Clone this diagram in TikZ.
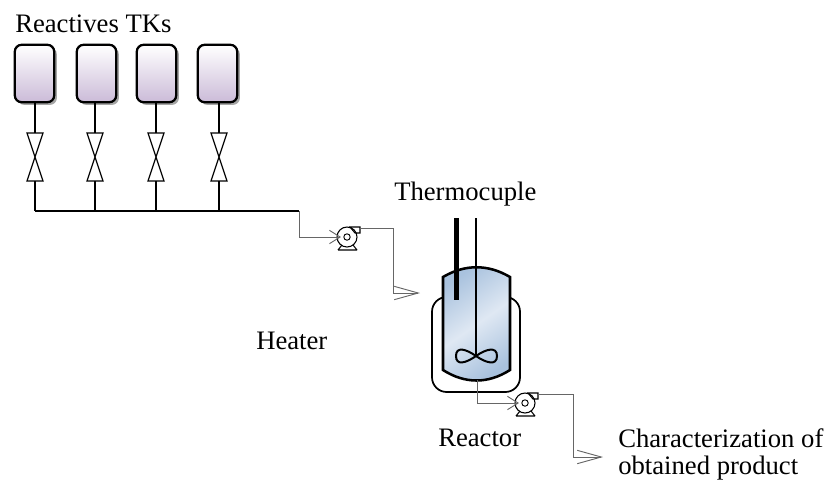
\documentclass[tikz,border=0pt]{standalone}
\usepackage{fontspec}
\setmainfont{Liberation Serif}
\usetikzlibrary{arrows.meta,shadows}
\definecolor{tanklow}{HTML}{CBBBD8}
\definecolor{vesselblue}{HTML}{A9C2DE}
\definecolor{vessellight}{HTML}{DFE8F3}
\definecolor{thinline}{HTML}{666666}
\tikzset{
  label/.style={anchor=base west,inner sep=0pt,font=\fontsize{20}{24}\selectfont},
  tank/.style={draw,line width=1.7pt,rounded corners=5pt,minimum width=29.5pt,minimum height=43pt,inner sep=0pt,
    top color=white,bottom color=tanklow,drop shadow={shadow xshift=2pt,shadow yshift=-2pt,fill=black!50,opacity=0.7}},
  mainline/.style={line width=1.2pt},
  thinpipe/.style={thinline,line width=0.7pt},
  bigtip/.style={-{Straight Barb[length=18pt,width=10pt]}},
  smalltip/.style={-{Straight Barb[length=8pt,width=10pt]}},
  valve/.pic={
    \draw[line width=0.9pt,fill=white] (-8,-24) -- (8,-24) -- (-8,24) -- (8,24) -- cycle;
    \coordinate (-top) at (0,-24);
    \coordinate (-bot) at (0,24);
  },
  pump/.pic={
    \draw[line width=0.8pt,fill=white] (3,-10) -- (13,-10) -- (13,-4) -- (8,-4) -- cycle;
    \draw[line width=0.8pt] (-9,13) -- (10,13) (-5,8) -- (-9,13) (6,8) -- (10,13);
    \node[draw,circle,line width=0.8pt,minimum size=15pt,inner sep=0pt] (-body) at (0,0) {};
    \draw[line width=0.7pt] (0,0) circle (3.2);
    \coordinate (-in) at (-6,0);
    \coordinate (-out) at (13,-9);
  }
}
\begin{document}
\begin{tikzpicture}[x=0.75pt,y=-0.75pt]
  \useasboundingbox (0,0) rectangle (827,480);
  % tanks, valves and header
  \coordinate (headL) at (35,211);
  \coordinate (headR) at (299,211);
  \foreach \i/\tx/\vx in {1/34.5/35,2/96.5/95,3/156.5/156,4/217.5/219}{
    \node[tank] (tk\i) at (\tx,73.5) {};
    \pic (vl\i) at (\vx,157) {valve};
    \draw[mainline] (vl\i-top |- tk\i.south) -- (vl\i-top);
    \draw[mainline] (vl\i-bot) -- (vl\i-bot |- headL);
  }
  \draw[mainline] (headL) -- (headR);
  % reactor
  \draw[line width=1.3pt,rounded corners=11pt] (443,297) -- (432,297) -- (432,392) -- (520,392) -- (520,297) -- (510,297);
  \draw[line width=1.9pt,left color=vesselblue,right color=vesselblue,middle color=vessellight,shading angle=35]
    (443,277) .. controls (465,264) and (488,264) .. (510,277) -- (510,370)
    .. controls (488,384) and (465,384) .. (443,370) -- cycle;
  \coordinate (thermoTop) at (456.5,218);
  \coordinate (thermoEnd) at (456.5,300);
  \coordinate (shaftTop) at (476,218);
  \coordinate (shaftEnd) at (476,356);
  \coordinate (reactorOut) at (477,380);
  \draw[line width=3.8pt] (thermoTop) -- (thermoEnd);
  \draw[line width=1.4pt] (shaftTop) -- (shaftEnd);
  \draw[line width=1.5pt] (shaftEnd) .. controls (466,349) and (456,346) .. (456,356)
    .. controls (456,366) and (466,363) .. (476,356)
    .. controls (486,349) and (497,346) .. (497,356)
    .. controls (497,366) and (486,363) .. (476,356);
  % pumps and thin lines
  \pic (pa) at (347,237) {pump};
  \pic (pb) at (525,403) {pump};
  \coordinate (feedEnd) at (420,293);
  \coordinate (prodEnd) at (603,457);
  \draw[thinpipe,smalltip] (headR) -- (299,237) -- (pa-in);
  \draw[thinpipe,bigtip] (pa-out) -- (393,228) -- (393,293) -- (feedEnd);
  \draw[thinpipe,smalltip] (reactorOut) -- (477,403) -- (pb-in);
  \draw[thinpipe,bigtip] (pb-out) -- (573,394) -- (573,457) -- (prodEnd);
  % labels
  \node[label] (lbtanks) at (15,32) {Reactives TKs};
  \node[label] (lbthermo) at (394,200) {Thermocuple};
  \node[label] (lbheater) at (256,349) {Heater};
  \node[label] (lbreactor) at (438,446) {Reactor};
  \node[label] (lbchar) at (618,447) {Characterization of};
  \node[label] (lbprod) at (618,474) {obtained product};
\end{tikzpicture}
\end{document}
